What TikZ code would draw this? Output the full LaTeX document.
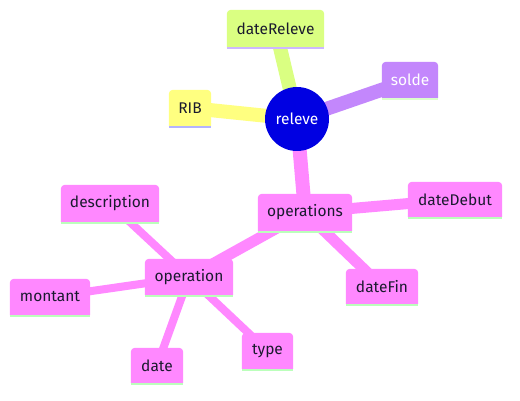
\documentclass[tikz,border=0pt]{standalone}
\usepackage{fontspec}
\setmainfont{Fira Sans}
\pgfdeclarelayer{bg}
\pgfdeclarelayer{edges}
\pgfdeclarelayer{boxes}
\pgfsetlayers{bg,edges,boxes,main}
\definecolor{cPink}{HTML}{FF88FF}
\definecolor{cYellow}{HTML}{FFFF80}
\definecolor{cLime}{HTML}{DAFF82}
\definecolor{cPurple}{HTML}{C387FC}
\definecolor{cBlue}{HTML}{0000E2}
\definecolor{lGreen}{HTML}{BBFFBB}
\definecolor{lLav}{HTML}{B4B4FF}
\definecolor{lLav2}{HTML}{CDB8FF}
\definecolor{lMint}{HTML}{DCFFCC}
\definecolor{tDark}{HTML}{1A1A2E}
\begin{document}
\begin{tikzpicture}[x=1pt,y=-1pt,
  mm/.style={rectangle,inner sep=0pt,text=tDark,font=\fontsize{15.5}{18}\selectfont},
  rootnode/.style={circle,fill=cBlue,minimum size=64pt,inner sep=0pt,text=white,font=\fontsize{15.5}{18}\selectfont},
  e1/.style={line width=14pt},
  e2/.style={line width=11pt},
  e3/.style={line width=8pt}]
\begin{pgfonlayer}{bg}
\useasboundingbox[fill=white] (0,0) rectangle (520,401);
\end{pgfonlayer}
% nodes
\node[rootnode] (releve) at (297,119) {releve};
\node[mm,minimum width=97pt,minimum height=37pt] (dateReleve) at (275.5,28.5) {dateReleve};
\node[mm,minimum width=56pt,minimum height=36pt,text=white] (solde) at (410,80) {solde};
\node[mm,minimum width=42pt,minimum height=36pt] (RIB) at (190,108) {RIB};
\node[mm,minimum width=94pt,minimum height=37pt] (operations) at (305,212.5) {operations};
\node[mm,minimum width=94pt,minimum height=35pt] (dateDebut) at (455,199.5) {dateDebut};
\node[mm,minimum width=72pt,minimum height=35pt] (dateFin) at (382,286.5) {dateFin};
\node[mm,minimum width=88pt,minimum height=36pt] (operation) at (189,277) {operation};
\node[mm,minimum width=98pt,minimum height=37pt] (description) at (110,203.5) {description};
\node[mm,minimum width=80pt,minimum height=36pt] (montant) at (50,297) {montant};
\node[mm,minimum width=52pt,minimum height=35pt] (date) at (157,365.5) {date};
\node[mm,minimum width=51pt,minimum height=36pt] (type) at (267.5,351) {type};
% boxes
\begin{pgfonlayer}{boxes}
\foreach \n/\f/\l in {dateReleve/cLime/lLav2, solde/cPurple/lMint, RIB/cYellow/lLav,
  operations/cPink/lGreen, dateDebut/cPink/lGreen, dateFin/cPink/lGreen,
  operation/cPink/lGreen, description/cPink/lGreen, montant/cPink/lGreen,
  date/cPink/lGreen, type/cPink/lGreen}{
  \fill[\f] (\n.south west) [rounded corners=4pt] -- (\n.north west) -- (\n.north east) [sharp corners] -- (\n.south east) -- cycle;
  \fill[\l] (\n.south west) rectangle ([yshift=-2pt]\n.south east);
}
\end{pgfonlayer}
% edges
\begin{pgfonlayer}{edges}
\draw[e1,cLime] (releve.center) -- (dateReleve.center);
\draw[e1,cYellow] (releve.center) -- (RIB.center);
\draw[e1,cPurple] (releve.center) -- (solde.center);
\draw[e1,cPink] (releve.center) -- (operations.center);
\draw[e2,cPink] (operations.center) -- (dateDebut.center);
\draw[e2,cPink] (operations.center) -- (dateFin.center);
\draw[e2,cPink] (operations.center) -- (operation.center);
\draw[e3,cPink] (operation.center) -- (description.center);
\draw[e3,cPink] (operation.center) -- (montant.center);
\draw[e3,cPink] (operation.center) -- (date.center);
\draw[e3,cPink] (operation.center) -- (type.center);
\end{pgfonlayer}
\end{tikzpicture}
\end{document}
